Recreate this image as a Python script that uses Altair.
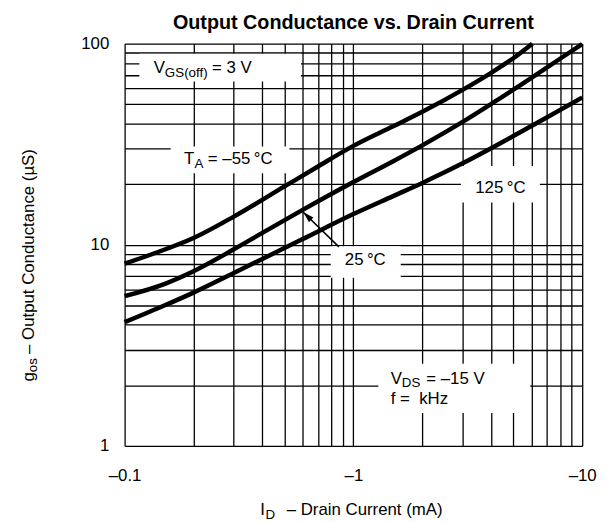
import altair as alt
import pandas as pd

FONT = "Liberation Sans"

# ---------------- data ----------------
id_m55 = [0.1, 0.14, 0.2, 0.3, 0.5, 0.7, 1.0, 1.5, 2.0, 3.0, 4.0, 5.0, 6.05]
gos_m55 = [8.05, 9.2, 10.8, 13.8, 19.5, 24.5, 31.0, 38.9, 45.8, 58.9, 71.6, 84.6, 100.0]

id_25 = [0.1, 0.15, 0.2, 0.3, 0.4, 0.6, 1.0, 1.5, 2.0, 3.0, 4.0, 6.0, 8.0, 10.0]
gos_25 = [5.55, 6.39, 7.38, 9.49, 11.45, 14.9, 20.5, 26.1, 31.2, 40.8, 50.1, 67.6, 84.1, 99.5]

id_125 = [0.1, 0.15, 0.2, 0.3, 0.4, 0.6, 1.0, 1.5, 2.0, 3.0, 4.0, 5.0, 7.0, 10.0]
gos_125 = [4.12, 5.0, 5.78, 7.23, 8.5, 10.67, 14.2, 17.5, 20.3, 25.4, 30.2, 34.7, 42.9, 54.0]

x_grid = [0.1, 0.2, 0.3, 0.4, 0.5, 0.6, 0.7, 0.8, 0.9, 1, 2, 3, 4, 5, 6, 7, 8, 9, 10]
x_tick_labels = {0.1: "–0.1", 1: "–1", 10: "–10"}
y_grid = [1, 2, 3, 4, 5, 6, 7, 8, 9, 10, 20, 30, 40, 50, 60, 70, 80, 90, 100]
y_tick_labels = {1: "1", 10: "10", 100: "100"}

title_text = "Output Conductance vs. Drain Current"

# white label boxes (data coords)
box_x1 = [0.116, 0.159, 2.95, 0.796, 1.285]
box_x2 = [0.59, 0.525, 6.53, 1.61, 5.92]
box_y1 = [64.9, 22.7, 16.2, 6.85, 1.457]
box_y2 = [89.0, 30.8, 24.6, 9.83, 2.56]

# annotation fragments: text, anchor x, anchor y, dx px, dy px, font size
frag_text = ["V", "GS(off)", "= 3 V", "T", "A", "= –55\u2009°C", "V", "DS", "= –15 V", "f =\u00a0 kHz"]
frag_ax = [0.134, 0.134, 0.134, 0.182, 0.182, 0.182, 1.455, 1.455, 1.455, 1.455]
frag_ay = [71.3, 71.3, 71.3, 25.2, 25.2, 25.2, 2.035, 2.035, 2.035, 2.035]
frag_dx = [0, 11.3, 59, 0, 10.4, 24, 0, 11.3, 36, 0]
frag_dy = [0, 4, 0, 0, 4, 0, 0, 3, 0, 20]
frag_size = [17, 13.5, 17, 17, 13.5, 17, 17, 13.5, 17, 17]

center_text = ["125\u2009°C", "25\u2009°C"]
center_x = [4.39, 1.127]
center_y = [19.2, 8.39]

arrow_from = (0.864, 9.76)
arrow_to = (0.604, 14.5)

# ---------------- layout ----------------
W, H = 463, 407
PX_PER_DEC_X = W / 2.0
PX_PER_DEC_Y = H / 2.0


def shift_x(v, dx):
    return v * 10 ** (dx / PX_PER_DEC_X)


def shift_y(v, dy):
    return v * 10 ** (-dy / PX_PER_DEC_Y)


def label_expr(d):
    parts = [f"datum.value == {k} ? '{v}'" for k, v in d.items()]
    return " : ".join(parts) + " : ''"


curves = pd.concat([
    pd.DataFrame({"id": id_m55, "gos": gos_m55, "temp": "-55"}),
    pd.DataFrame({"id": id_25, "gos": gos_25, "temp": "25"}),
    pd.DataFrame({"id": id_125, "gos": gos_125, "temp": "125"}),
])

boxes = pd.DataFrame({"x1": box_x1, "x2": box_x2, "y1": box_y1, "y2": box_y2})

frags = pd.DataFrame({
    "t": frag_text,
    "x": [shift_x(a, d) for a, d in zip(frag_ax, frag_dx)],
    "y": [shift_y(a, d) for a, d in zip(frag_ay, frag_dy)],
    "s": frag_size,
})

centers = pd.DataFrame({"t": center_text, "x": center_x, "y": center_y})
arrow = pd.DataFrame({"x": [arrow_from[0]], "y": [arrow_from[1]],
                      "x2": [arrow_to[0]], "y2": [arrow_to[1]]})

x_scale = alt.Scale(type="log", domain=[0.1, 10], nice=False)
y_scale = alt.Scale(type="log", domain=[1, 100], nice=False)

common_axis = dict(grid=True, ticks=False, domain=False, title=None,
                   labelFontSize=17, labelFont=FONT, labelColor="black",
                   gridColor="black", gridWidth=1.3, gridOpacity=1,
                   labelFlush=False, labelOverlap=False, labelBound=False)
x_axis = alt.Axis(values=x_grid, labelExpr=label_expr(x_tick_labels),
                  labelPadding=22, **common_axis)
y_axis = alt.Axis(values=y_grid, labelExpr=label_expr(y_tick_labels),
                  labelPadding=16, **common_axis)


def XE(field):
    return alt.X(field, scale=x_scale, axis=x_axis)


def YE(field):
    return alt.Y(field, scale=y_scale, axis=y_axis)


base_rect = alt.Chart(boxes).mark_rect(color="white").encode(
    x=XE("x1:Q"), x2="x2:Q", y=YE("y1:Q"), y2="y2:Q",
)

lines = alt.Chart(curves).mark_line(color="black", strokeWidth=4.5,
                                    interpolate="monotone", strokeCap="butt").encode(
    x=XE("id:Q"), y=YE("gos:Q"), detail="temp:N",
)

frag_layer = alt.Chart(frags).mark_text(align="left", baseline="alphabetic",
                                        font=FONT, color="black").encode(
    x=XE("x:Q"), y=YE("y:Q"), text="t:N",
    size=alt.Size("s:Q", scale=None, legend=None),
)

center_layer = alt.Chart(centers).mark_text(align="center", baseline="middle",
                                            font=FONT, fontSize=17, color="black").encode(
    x=XE("x:Q"), y=YE("y:Q"), text="t:N",
)

arrow_line = alt.Chart(arrow).mark_rule(color="black", strokeWidth=1.6).encode(
    x=XE("x:Q"), y=YE("y:Q"), x2="x2:Q", y2="y2:Q",
)

arrow_head = alt.Chart(arrow).mark_point(
    shape="M0,0L0.5,1.7L-0.5,1.7Z", filled=True, opacity=1, color="black",
    size=170, angle=314, strokeWidth=0,
).encode(
    x=XE("x2:Q"), y=YE("y2:Q"),
)

one = pd.DataFrame({"k": [0]})


def ptext(t, x, y, size=17, weight="normal", angle=0, align="left"):
    return alt.Chart(one).mark_text(
        text=t, font=FONT, fontSize=size, fontWeight=weight, angle=angle,
        align=align, baseline="alphabetic", color="black",
    ).encode(x=alt.value(x), y=alt.value(y))


title_layer = ptext(title_text, W / 2, -15, size=20, weight="bold", align="center")
xt1 = ptext("I", 137.3, 477.3)
xt2 = ptext("D", 142.6, 481.5, size=13.5)
xt3 = ptext("– Drain Current (mA)", 164, 477.3)
yt1 = ptext("g", -92, 342, angle=270)
yt2 = ptext("os", -88.5, 332.5, size=13.5, angle=270)
yt3 = ptext("– Output Conductance (µS)", -92, 314, angle=270)

chart = alt.layer(
    base_rect, lines, frag_layer, center_layer, arrow_line, arrow_head,
    title_layer, xt1, xt2, xt3, yt1, yt2, yt3,
).properties(
    width=W, height=H,
    padding={"left": 118, "top": 33, "right": 18, "bottom": 74},
    autosize=alt.AutoSizeParams(type="none"),
).configure_view(stroke=None)

chart.save("out.html", embed_options={"renderer": "svg", "actions": False})
